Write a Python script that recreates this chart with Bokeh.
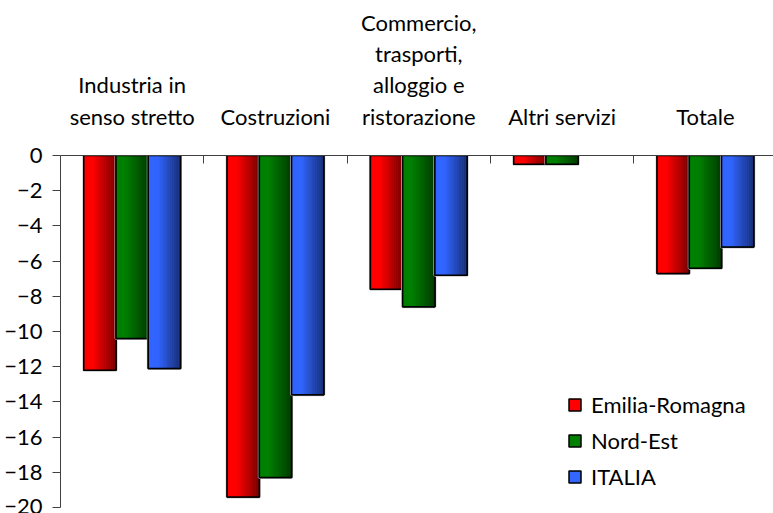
from bokeh.plotting import figure
from bokeh.models import Range1d, FixedTicker, Legend, LegendItem, ColumnDataSource
from bokeh.embed import file_html
from bokeh.resources import INLINE

categories = ["Industria in\nsenso stretto", "Costruzioni",
              "Commercio,\ntrasporti,\nalloggio e\nristorazione",
              "Altri servizi", "Totale"]
series_names = ["Emilia-Romagna", "Nord-Est", "ITALIA"]
emilia_romagna = [-12.2, -19.4, -7.6, -0.5, -6.7]
nord_est = [-10.4, -18.3, -8.6, -0.5, -6.4]
italia = [-12.1, -13.6, -6.8, 0.0, -5.2]
y_ticks = [0, -2, -4, -6, -8, -10, -12, -14, -16, -18, -20]

values = [emilia_romagna, nord_est, italia]
base_rgb = [(255, 0, 0), (0, 128, 0), (51, 102, 255)]
FONT = "Lato"
FS = "22px"

p = figure(width=773, height=513, output_backend="svg", toolbar_location=None,
           x_range=Range1d(0, 4.975), y_range=Range1d(-20, 0),
           x_axis_location="above", min_border_left=60, min_border_top=155,
           min_border_right=0, min_border_bottom=6)
p.outline_line_color = None
p.xgrid.visible = False
p.ygrid.visible = False
p.background_fill_color = "white"
p.border_fill_color = "white"

# top (category) axis
xc = [i + 0.5 for i in range(len(categories))]
xa = p.xaxis[0]
xa.ticker = FixedTicker(ticks=xc, minor_ticks=[1, 2, 3, 4])
xa.major_label_overrides = {x: c for x, c in zip(xc, categories)}
xa.major_tick_in = 0
xa.major_tick_out = 0
xa.minor_tick_in = 8
xa.minor_tick_out = 0
xa.minor_tick_line_color = "#404040"
xa.axis_line_color = "#404040"
xa.major_label_text_font = FONT
xa.major_label_text_font_size = FS
xa.major_label_text_color = "black"
xa.major_label_text_line_height = 1.15
xa.major_label_standoff = 26
xa.major_label_orientation = "horizontal"

ya = p.yaxis[0]
ya.ticker = FixedTicker(ticks=y_ticks, minor_ticks=[])
ya.major_tick_in = 0
ya.major_tick_out = 8
ya.major_tick_line_color = "#404040"
ya.axis_line_color = "#404040"
ya.major_label_text_font = FONT
ya.major_label_text_font_size = FS
ya.major_label_text_color = "black"
ya.major_label_standoff = 10

bar_w = 0.225
offsets = [-bar_w, 0.0, bar_w]
N = 18
legend_items = []
for s, (name, vals, rgb, off) in enumerate(zip(series_names, values, base_rgb, offsets)):
    bx = [x + off for x in xc]
    base_hex = "#%02x%02x%02x" % rgb
    outline_alpha = [1.0 if v != 0 else 0.0 for v in vals]
    # light shadow
    p.vbar(x=bx, top=vals, bottom=0, width=bar_w, fill_alpha=0,
           line_color="#c8c8c8", line_width=3, line_alpha=outline_alpha)
    base = p.vbar(x=bx, top=vals, bottom=0, width=bar_w, fill_color=base_hex,
                  line_color="black", line_width=1.5, line_alpha=outline_alpha)
    xs, tops, cols = [], [], []
    for k in range(N):
        t = (k + 0.5) / N
        f = 1.0 if t < 0.3 else 1.0 - 0.55 * (t - 0.3) / 0.7
        col = "#%02x%02x%02x" % tuple(int(round(c * f)) for c in rgb)
        for x, v in zip(bx, vals):
            if v == 0:
                continue
            xs.append(x - bar_w / 2 + bar_w * t)
            tops.append(v)
            cols.append(col)
    src = ColumnDataSource(dict(x=xs, top=tops, color=cols))
    p.vbar(x="x", top="top", bottom=0, width=bar_w / N * 1.02, source=src,
           fill_color="color", line_color="color", line_width=0.3)
    p.vbar(x=bx, top=vals, bottom=0, width=bar_w, fill_alpha=0,
           line_color="black", line_width=1.5, line_alpha=outline_alpha)
    legend_items.append(LegendItem(label=name, renderers=[base]))

legend = Legend(items=legend_items, location=(507, 17),
                label_text_font=FONT, label_text_font_size=FS,
                label_text_color="black", glyph_width=15, glyph_height=15,
                label_height=24, spacing=9, label_standoff=9,
                padding=8, margin=0, border_line_color=None,
                background_fill_alpha=0)
p.add_layout(legend)

open("out.html", "w").write(file_html(p, INLINE))
